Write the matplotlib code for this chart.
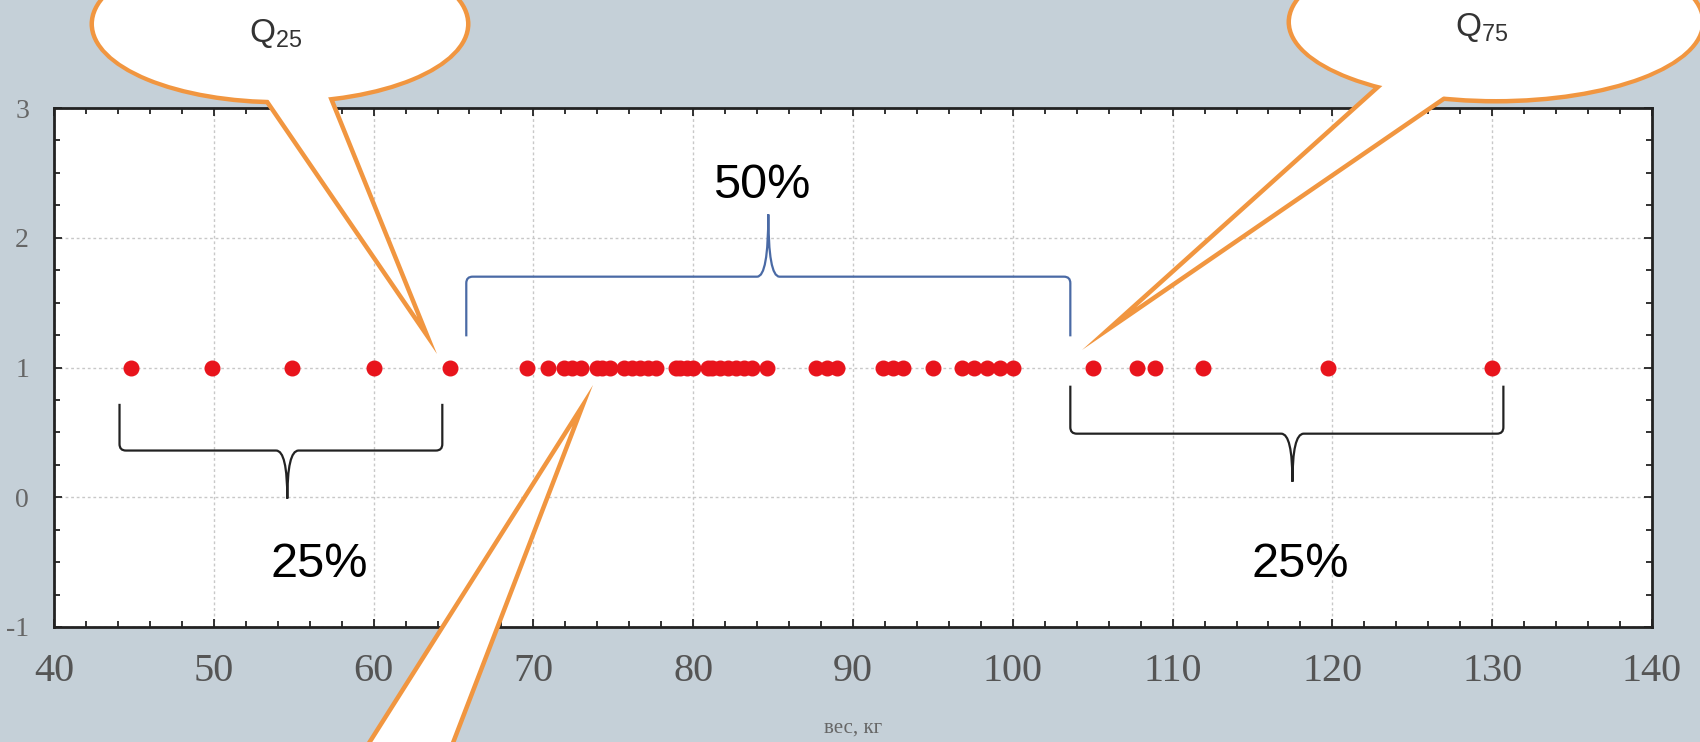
import matplotlib
matplotlib.use('Agg')
import matplotlib.pyplot as plt
from matplotlib.patches import Ellipse, Polygon, PathPatch
from matplotlib.path import Path
from matplotlib.ticker import MultipleLocator
import numpy as np

plt.rcParams['axes.unicode_minus'] = False

# weights (kg), all plotted at y = 1
weights = [44.8, 49.9, 54.9, 60.0, 64.8,
           69.6, 70.9, 71.9, 72.4, 73.0, 74.0, 74.3, 74.8, 75.7, 76.2, 76.7, 77.2, 77.7,
           78.9, 79.2, 79.6, 80.0, 80.9, 81.2, 81.7, 82.2, 82.7, 83.2, 83.7, 84.6,
           87.7, 88.4, 89.0, 91.9, 92.5, 93.1, 95.0, 96.8, 97.6, 98.4, 99.2, 100.0,
           105.0, 107.8, 108.9, 111.9, 119.7, 130.0]
x_ticks = [40, 50, 60, 70, 80, 90, 100, 110, 120, 130, 140]
y_ticks = [-1, 0, 1, 2, 3]
x_label = 'вес, кг'

# braces: x0, x1, tip x, y at ends, y of bar, y of tip, colour
braces = [(44.1, 64.3, 54.6, 0.72, 0.36, -0.01, '#222222'),
          (65.8, 103.6, 84.7, 1.24, 1.70, 2.18, '#4a6aa5'),
          (103.6, 130.7, 117.5, 0.86, 0.49, 0.12, '#222222')]
# percent labels: text, x, y
pct_labels = [('50%', 84.3, 2.40), ('25%', 56.6, -0.52), ('25%', 118.0, -0.52)]

BG = '#c5d0d8'
ORANGE = '#f19640'
RED = '#e8141c'

fig = plt.figure(figsize=(17, 7.42), dpi=100)
fig.patch.set_facecolor(BG)
ax = fig.add_axes([54/1700, 1-627/742, (1652-54)/1700, (627-108)/742])
ax.set_facecolor('white')

ax.plot(weights, np.ones(len(weights)), 'o', color=RED, ms=10.5, mec=RED, zorder=3)

ax.set_xlim(40, 140)
ax.set_ylim(-1, 3)
ax.set_xticks(x_ticks)
ax.set_yticks(y_ticks)
ax.xaxis.set_minor_locator(MultipleLocator(2))
ax.yaxis.set_minor_locator(MultipleLocator(0.25))
ax.grid(True, which='major', color='#c8c8c8', ls=(0, (2, 2)), lw=1)
ax.set_axisbelow(True)
ax.tick_params(which='both', direction='in', top=True, right=True, color='#222222', width=1.3)
ax.tick_params(which='major', length=6)
ax.tick_params(which='minor', length=4)
ax.tick_params(axis='x', pad=19, labelsize=29, labelcolor='#555555')
ax.tick_params(axis='y', pad=18, labelsize=20, labelcolor='#666666')
for lab in ax.get_xticklabels() + ax.get_yticklabels():
    lab.set_family('Liberation Serif')
for s in ax.spines.values():
    s.set_color('#222222')
    s.set_linewidth(2)
ax.set_xlabel(x_label, fontsize=15, color='#666666', family='Liberation Serif', labelpad=20)


def brace(x0, x1, xt, ye, yb, ytip, color):
    rx, ry, w = 0.4, 0.05, 0.7
    d = np.sign(ye - yb)
    verts = [(x0, ye), (x0, yb + d*ry), (x0, yb), (x0 + rx, yb),
             (xt - w, yb), (xt, yb), (xt, ytip),
             (xt, yb), (xt + w, yb),
             (x1 - rx, yb), (x1, yb), (x1, yb + d*ry), (x1, ye)]
    codes = [Path.MOVETO, Path.LINETO, Path.CURVE3, Path.CURVE3,
             Path.LINETO, Path.CURVE3, Path.CURVE3,
             Path.CURVE3, Path.CURVE3,
             Path.LINETO, Path.CURVE3, Path.CURVE3, Path.LINETO]
    ax.add_patch(PathPatch(Path(verts, codes), fc='none', ec=color, lw=1.6, zorder=4))


for b in braces:
    brace(*b)
for txt, x, y in pct_labels:
    ax.text(x, y, txt, fontsize=35, family='Liberation Sans', ha='center', va='center', zorder=5)

# overlay in pixel coordinates for the speech bubbles
ov = fig.add_axes([0, 0, 1, 1], zorder=10)
ov.set_xlim(0, 1700)
ov.set_ylim(742, 0)
ov.axis('off')
ov.patch.set_alpha(0)


def shrink(pts, t):
    pts = np.array(pts, float)
    c = pts.mean(0)
    lines = []
    for i in range(3):
        p, q = pts[i], pts[(i+1) % 3]
        d = q - p
        n = np.array([-d[1], d[0]]) / np.hypot(*d)
        if np.dot(c - p, n) < 0:
            n = -n
        lines.append((p + n*t, d))
    out = []
    for i in range(3):
        (p1, d1), (p2, d2) = lines[i-1], lines[i]
        a, b = np.linalg.solve(np.array([d1, -d2]).T, p2 - p1)
        out.append(p1 + a*d1)
    return out


def bubble(tail, ell=None, t=4.5):
    if ell is not None:
        cx, cy, w, h = ell
        ov.add_patch(Ellipse((cx, cy), w + 2*t, h + 2*t, fc=ORANGE, ec='none'))
    ov.add_patch(Polygon(tail, fc=ORANGE, ec='none'))
    if ell is not None:
        ov.add_patch(Ellipse((cx, cy), w, h, fc='white', ec='none'))
    ov.add_patch(Polygon(shrink(tail, t), fc='white', ec='none'))


bubble([(246, 75), (324, 75), (437, 354)], (280, 24, 372, 152))
bubble([(1399, 65), (1497, 65), (1082, 350)], (1496, 22, 410, 154))
bubble([(267, 900), (395, 900), (593, 385)])

ov.text(276, 33, r'Q$_{\mathregular{25}}$', fontsize=24, color='#333333',
        family='Liberation Sans', ha='center', va='center')
ov.text(1482, 28, r'Q$_{\mathregular{75}}$', fontsize=24, color='#333333',
        family='Liberation Sans', ha='center', va='center')

fig.savefig('out.png', dpi=100, facecolor=BG)
